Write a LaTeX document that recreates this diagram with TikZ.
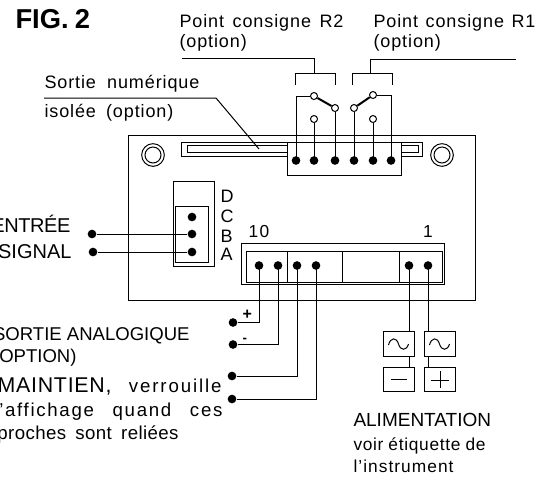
\documentclass[tikz,border=0pt]{standalone}
\usepackage{fontspec}
\setmainfont{Liberation Sans}
\newcommand{\px}[1]{\fontsize{#1}{#1}\selectfont}
\newcommand{\ls}[1]{\addfontfeature{LetterSpace=#1}}
\tikzset{
  x=.75pt,y=-.75pt,
  every path/.style={line width=.75pt},
  txt/.style={inner sep=0pt,anchor=base west,text=black},
  txtr/.style={inner sep=0pt,anchor=base east,text=black},
  blob/.style={circle,fill=black,inner sep=0pt,minimum size=6.5pt},
  ring/.style={circle,draw,fill=white,inner sep=0pt,minimum size=5.25pt},
  psu/.style={draw,fill=white,inner sep=0pt,minimum width=23.25pt,minimum height=18.4pt},
  wire/.style={line width=.75pt},
  hole/.style={circle,draw,inner sep=0pt},
}
\begin{document}
\begin{tikzpicture}
\useasboundingbox (0,0) rectangle (548,476);
% board
\draw (128,135) rectangle (475,300);
% mounting holes
\node[hole,minimum size=17pt] (h1) at (153,155) {};
\node[hole,minimum size=12pt] (h1i) at (153,155) {};
\node[hole,minimum size=17pt] (h2) at (442,155) {};
\node[hole,minimum size=12pt] (h2i) at (442,155) {};
% slot
\draw (181,142) rectangle (422,156);
\draw (187,145) rectangle (418,152);
% relay terminal block
\draw[fill=white] (287,142) rectangle (401,175);
\foreach \n/\x in {a/296,b/314,c/335,d/354,e/373,f/391}
  \node[blob] (r\n) at (\x,160.5) {};
% switch contacts
\node[ring] (s1) at (314,96) {};
\node[ring] (s2) at (335,108) {};
\node[ring] (s3) at (314,119) {};
\node[ring] (s4) at (354,108) {};
\node[ring] (s5) at (373,95) {};
\node[ring] (s6) at (373,119) {};
\draw[wire] (ra.center) |- (s1);
\draw[wire] (rb.center) -- (s3);
\draw[wire] (rc.center) -- (s2);
\draw[wire] (rd.center) -- (s4);
\draw[wire] (re.center) -- (s6);
\draw[wire] (rf.center) |- (s5);
\draw[line width=1.5pt] (s1) -- (s2);
\draw[line width=1.5pt] (s4) -- (s5);
% brackets
\draw (295,85) -- (295,73) -- (335,73) -- (335,85);
\draw (314,73) -- (314,58) -- (182,58);
\draw (352,85) -- (352,73) -- (392,73) -- (392,85);
\draw (370,73) -- (370,59) -- (516,59);
% leader
\draw (44,98) -- (216,98) -- (259,149);
% signal connector
\draw (173,181) rectangle (214,266);
\draw (175,206) rectangle (208,262);
\node[blob] (sd) at (192,217) {};
\node[blob] (sb) at (192,234) {};
\node[blob] (sa) at (192,252) {};
\node[blob] (in1) at (92,234) {};
\node[blob] (in2) at (93,252) {};
\draw[wire] (in1) -- (sb);
\draw[wire] (in2) -- (sa);
% main terminal
\draw (241,243) rectangle (444,284);
\draw (246,251) rectangle (442,282);
\draw (287,251) -- (287,282);
\draw (342,251) -- (342,282);
\draw (399,251) -- (399,282);
\foreach \n/\x in {a/259,b/278,c/297,d/316,e/409,f/428}
  \node[blob] (t\n) at (\x,265.5) {};
\node[blob] (o1) at (233,322.5) {};
\node[blob] (o2) at (233,344.5) {};
\node[blob] (o3) at (232,376) {};
\node[blob] (o4) at (232,399) {};
\draw[wire] (ta.center) |- (o1);
\draw[wire] (tb.center) |- (o2);
\draw[wire] (tc.center) |- (o3);
\draw[wire] (td.center) |- (o4);
% power boxes
\node[psu] (ac1) at (398.5,344) {};
\node[psu] (ac2) at (439.5,344) {};
\node[psu] (neg) at (398.5,379.5) {};
\node[psu] (pos) at (439.5,379.5) {};
\draw[wire] (te.center) -- (te |- ac1.north);
\draw[wire] (tf.center) -- (tf |- ac2.north);
\draw[wire] (te |- ac1.south) -- (te |- neg.north);
\draw[wire] (tf |- ac2.south) -- (tf |- pos.north);
\foreach \c in {398.5,439.5}
  \draw (\c-10,345) .. controls (\c-8,337) and (\c-2,337) .. (\c,344) .. controls (\c+2,351) and (\c+8,351) .. (\c+10,344);
\draw (391,379.5) -- (407,379.5);
\draw (431,380) -- (449,380);
\draw (440,371) -- (440,388);
% text
\node[txt,font=\px{20.5}\bfseries] (fig) at (15,28) {FIG.\kern-1pt\ 2};
\node[txt,font=\px{13.5}\ls{5}] (l1) at (179,27) {\hbox to 123pt{Point\hfil consigne\hfil R2}};
\node[txt,font=\px{13.5}\ls{5}] (l2) at (179,47.5) {(option)};
\node[txt,font=\px{13.5}\ls{5}] (l3) at (373,27) {\hbox to 121.5pt{Point\hfil consigne\hfil R1}};
\node[txt,font=\px{13.5}\ls{5}] (l4) at (373,47.5) {(option)};
\node[txt,font=\px{13.5}\ls{5}] (l5) at (44,88) {\hbox to 116.2pt{Sortie\hfil numérique}};
\node[txt,font=\px{13.5}\ls{5}] (l6) at (44,117) {\hbox to 96.7pt{isolée\hfil (option)}};
\node[txtr,font=\px{15}\ls{-2}] (e1) at (71,232) {ENTRÉE};
\node[txtr,font=\px{15}] (e2) at (72,258) {SIGNAL};
\node[txt,font=\px{13.5}] (pd) at (220,202) {D};
\node[txt,font=\px{13.5}] (pc) at (220,222) {C};
\node[txt,font=\px{13.5}] (pb) at (220,242) {B};
\node[txt,font=\px{13.5}] (pa) at (220,260) {A};
\node[txt,font=\px{13}\ls{8}] (n10) at (248,237) {10};
\node[txt,font=\px{13}] (n1) at (422.5,237) {1};
\node[txt,font=\px{12}\bfseries] (plus) at (242,319) {+};
\node[txt,font=\px{10}\bfseries] (minus) at (242,342) {-};
\node[txtr,font=\px{13.9}] (a1) at (190,340) {SORTIE ANALOGIQUE};
\node[txtr,font=\px{13.9}] (a2) at (77,362) {(OPTION)};
\node[txtr,font=\px{16}\ls{3.5}] (m1) at (112,392) {MAINTIEN,};
\node[txtr,font=\px{14}\ls{10}] (m2) at (222,392) {verrouille};
\node[txt,font=\px{14}\ls{9}] (m3) at (-7,416) {\hbox to 171.7pt{l'affichage\hfil quand\hfil ces}};
\node[txt,font=\px{14}\ls{2}] (m4) at (-3,439) {\hbox to 135.7pt{proches\hfil sont\hfil reliées}};
\node[txt,font=\px{14.25}] (p1) at (353,426) {ALIMENTATION};
\node[txt,font=\px{13}\ls{4}] (p2) at (353,450) {\hbox to 99pt{voir\hfil étiquette\hfil de}};
\node[txt,font=\px{13}\ls{6}] (p3) at (353,472) {l'instrument};
\end{tikzpicture}
\end{document}
